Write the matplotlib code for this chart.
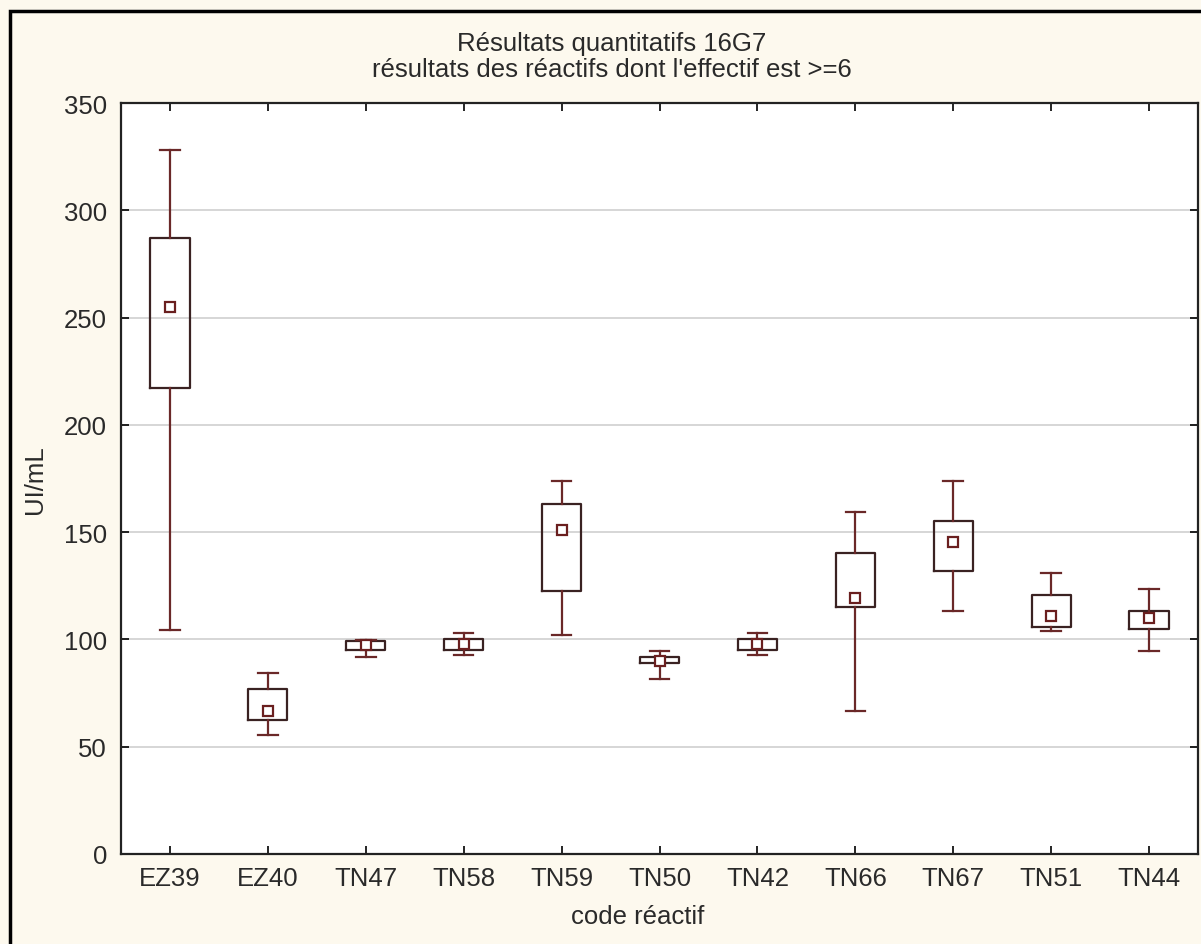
import matplotlib
matplotlib.use("Agg")
import matplotlib.pyplot as plt
from matplotlib.patches import Rectangle

plt.rcParams['font.family'] = ['Liberation Sans', 'DejaVu Sans']

categories = ["EZ39", "EZ40", "TN47", "TN58", "TN59", "TN50", "TN42", "TN66", "TN67", "TN51", "TN44"]
medians = [255, 66.6, 97.4, 97.9, 151, 89.9, 97.9, 119.3, 145.4, 110.9, 110]
q1 = [217, 62.4, 95, 95, 122.6, 89, 95, 115.1, 131.9, 105.8, 104.8]
q3 = [287, 76.9, 99.3, 100.2, 163.1, 91.8, 100.2, 140.3, 155.2, 120.7, 113.2]
whis_lo = [104.4, 55.5, 91.8, 92.7, 102, 81.5, 92.7, 66.6, 113.2, 103.9, 94.6]
whis_hi = [328, 84.3, 99.7, 103, 173.8, 94.6, 103, 159.4, 173.8, 130.9, 123.5]
yticks = [0, 50, 100, 150, 200, 250, 300, 350]

fig = plt.figure(figsize=(12.01, 9.45), dpi=100)
fig.patch.set_facecolor('#fdf9ee')
fig.patches.append(Rectangle((10 / 1201, -0.01), 1.02, (945 - 12) / 945 + 0.01,
                             transform=fig.transFigure, fill=False,
                             edgecolor='black', linewidth=2.5, zorder=0))

ax = fig.add_axes([121 / 1201, 1 - 855 / 945, (1198 - 121) / 1201, (855 - 104) / 945])
ax.set_facecolor('white')

stats = []
for i, c in enumerate(categories):
    stats.append(dict(label=c, med=medians[i], q1=q1[i], q3=q3[i],
                      whislo=whis_lo[i], whishi=whis_hi[i], fliers=[]))

pos = list(range(len(categories)))
box_col = '#3a2222'
wh_col = '#6a2828'
ax.bxp(stats, positions=pos, widths=0.4, capwidths=0.2, showfliers=False,
       boxprops=dict(color=box_col, linewidth=1.6),
       whiskerprops=dict(color=wh_col, linewidth=1.6),
       capprops=dict(color=wh_col, linewidth=1.6),
       medianprops=dict(linestyle='none'), zorder=3)
ax.plot(pos, medians, linestyle='none', marker='s', markersize=7,
        markerfacecolor='white', markeredgecolor='#6a1f1f', markeredgewidth=1.6, zorder=4)

ax.set_xlim(-0.5, len(categories) - 0.5)
ax.set_ylim(0, 350)
ax.set_yticks(yticks)
ax.set_yticklabels([str(v) for v in yticks])
ax.set_xticks(pos)
ax.set_xticklabels(categories)
for y in yticks[1:-1]:
    ax.axhline(y, color='#cfcfcf', linewidth=1.2, zorder=1)

fs = 18.5
ax.tick_params(axis='both', direction='in', length=6, width=1.2, color='black',
               labelsize=fs, labelcolor='#2a2a2a', top=True, right=True)
ax.tick_params(axis='x', pad=9)
ax.tick_params(axis='y', pad=10)
for s in ax.spines.values():
    s.set_linewidth(1.6)
    s.set_color('#222222')

ax.set_xlabel('code réactif', fontsize=fs, color='#2a2a2a')
ax.xaxis.set_label_coords((638 - 121) / 1077, -0.066)
ax.set_ylabel('UI/mL', fontsize=fs, color='#2a2a2a', labelpad=12)

fig.text(612 / 1201, 1 - 57 / 945, 'Résultats quantitatifs 16G7\nrésultats des réactifs dont l\'effectif est >=6',
         ha='center', va='center', fontsize=fs, color='#2a2a2a', linespacing=1.12)

fig.savefig('out.png', dpi=100, facecolor=fig.get_facecolor())
